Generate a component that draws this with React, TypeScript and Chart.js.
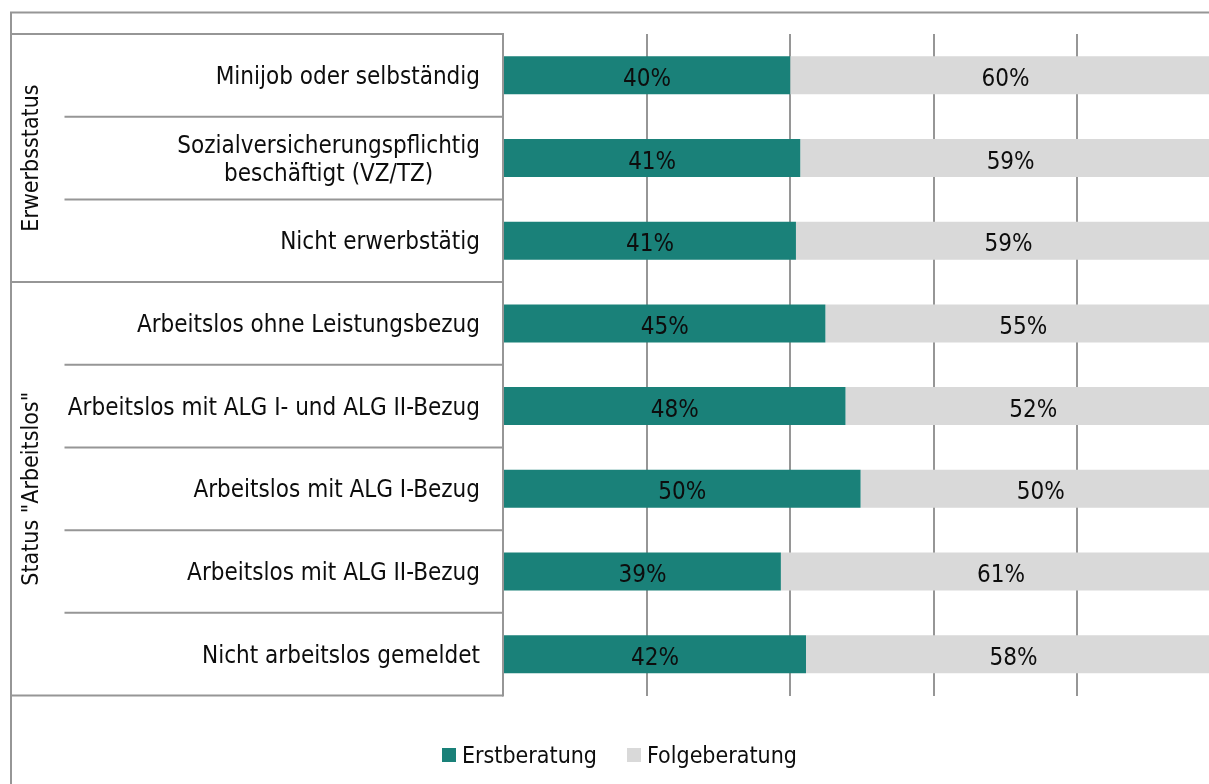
import React, { useEffect, useRef } from "react";
import { Chart, registerables } from "chart.js";

Chart.register(...registerables);

const categories: string[][] = [
  ["Minijob oder selbständig"],
  ["Sozialversicherungspflichtig", "beschäftigt (VZ/TZ)"],
  ["Nicht erwerbstätig"],
  ["Arbeitslos ohne Leistungsbezug"],
  ["Arbeitslos mit ALG I- und ALG II-Bezug"],
  ["Arbeitslos mit ALG I-Bezug"],
  ["Arbeitslos mit ALG II-Bezug"],
  ["Nicht arbeitslos gemeldet"],
];
const erstberatung = [40.0, 41.4, 40.8, 44.9, 47.7, 49.8, 38.7, 42.2];
const folgeberatung = [60.0, 58.6, 59.2, 55.1, 52.3, 50.2, 61.3, 57.8];
const seriesNames = ["Erstberatung", "Folgeberatung"];
const seriesColors = ["#1a8179", "#d9d9d9"];
const groupLabels = ["Erwerbsstatus", 'Status "Arbeitslos"'];
const groupStart = [0, 3];
const groupEnd = [2, 7];
const xMin = 0;
const xMax = 100;
const xStep = 20;

const FONT_FAMILY = '"DejaVu Sans Condensed", "DejaVu Sans", sans-serif';
const LINE_COLOR = "#969696";
const TEXT_COLOR = "#0d0d0d";

const overlayPlugin = {
  id: "overlay",
  afterDatasetsDraw(chart: any) {
    const ctx = chart.ctx;
    ctx.save();
    ctx.fillStyle = TEXT_COLOR;
    ctx.font = `24px ${FONT_FAMILY}`;
    ctx.textAlign = "center";
    ctx.textBaseline = "alphabetic";
    chart.data.datasets.forEach((ds: any, di: number) => {
      const meta = chart.getDatasetMeta(di);
      meta.data.forEach((bar: any, i: number) => {
        const v = ds.data[i];
        const left = Math.min(bar.x, bar.base);
        const right = Math.max(bar.x, bar.base);
        const cx = (left + right) / 2;
        ctx.fillText(`${Math.round(v)}%`, cx, bar.y + 10.5);
      });
    });
    ctx.restore();
  },
  afterDraw(chart: any) {
    const ctx = chart.ctx;
    const area = chart.chartArea;
    const yScale = chart.scales.y;
    const n = chart.data.labels.length;
    const band = (area.bottom - area.top) / n;
    const frameX = 11;
    const frameY = 12.5;
    const innerX = 64.5;
    ctx.save();
    ctx.strokeStyle = LINE_COLOR;
    ctx.lineWidth = 2;
    // outer frame
    ctx.beginPath();
    ctx.moveTo(frameX, chart.height + 2);
    ctx.lineTo(frameX, frameY);
    ctx.lineTo(chart.width + 2, frameY);
    ctx.stroke();
    // label table
    const groupBounds = new Set<number>();
    groupStart.forEach((s) => groupBounds.add(s));
    groupBounds.add(n);
    for (let k = 0; k <= n; k++) {
      const y = area.top + k * band;
      ctx.beginPath();
      ctx.moveTo(groupBounds.has(k) ? frameX : innerX, y);
      ctx.lineTo(area.left, y);
      ctx.stroke();
    }
    ctx.beginPath();
    ctx.moveTo(area.left, area.top - 1);
    ctx.lineTo(area.left, area.bottom + 1);
    ctx.stroke();

    // category labels
    ctx.fillStyle = TEXT_COLOR;
    ctx.font = `24px ${FONT_FAMILY}`;
    ctx.textBaseline = "alphabetic";
    const rightX = area.left - 23;
    chart.data.labels.forEach((lab: any, i: number) => {
      const lines: string[] = Array.isArray(lab) ? lab : [lab];
      const cy = yScale.getPixelForValue(i);
      const lh = 28;
      const widths = lines.map((l) => ctx.measureText(l).width);
      const maxW = Math.max(...widths);
      const cx = rightX - maxW / 2;
      ctx.textAlign = "center";
      lines.forEach((l, li) => {
        const y = cy + 8.5 + (li - (lines.length - 1) / 2) * lh;
        ctx.fillText(l, cx, y);
      });
    });

    // group labels
    ctx.font = `23px ${FONT_FAMILY}`;
    groupLabels.forEach((g, gi) => {
      const y0 = area.top + groupStart[gi] * band;
      const y1 = area.top + (groupEnd[gi] + 1) * band;
      ctx.save();
      ctx.translate(38, (y0 + y1) / 2);
      ctx.rotate(-Math.PI / 2);
      ctx.textAlign = "center";
      ctx.fillText(g, 0, 0);
      ctx.restore();
    });

    // legend
    ctx.font = `23px ${FONT_FAMILY}`;
    ctx.textAlign = "left";
    let x = 442;
    const sq = 14;
    const sqTop = 748;
    const baseline = 763;
    chart.data.datasets.forEach((ds: any) => {
      ctx.fillStyle = ds.backgroundColor;
      ctx.fillRect(x, sqTop, sq, sq);
      x += sq + 6;
      ctx.fillStyle = TEXT_COLOR;
      ctx.fillText(ds.label, x, baseline);
      x += ctx.measureText(ds.label).width + 30;
    });
    ctx.restore();
  },
};

export default function App() {
  const canvasRef = useRef<HTMLCanvasElement | null>(null);
  useEffect(() => {
    document.documentElement.style.overflow = "hidden";
    document.body.style.margin = "0";
    const canvas = canvasRef.current!;
    const chart = new Chart(canvas, {
      type: "bar",
      data: {
        labels: categories as any,
        datasets: [
          {
            label: seriesNames[0],
            data: erstberatung,
            backgroundColor: seriesColors[0],
            borderWidth: 0,
            barPercentage: 0.46,
            categoryPercentage: 1,
          },
          {
            label: seriesNames[1],
            data: folgeberatung,
            backgroundColor: seriesColors[1],
            borderWidth: 0,
            barPercentage: 0.46,
            categoryPercentage: 1,
          },
        ],
      },
      options: {
        indexAxis: "y",
        responsive: false,
        animation: false,
        devicePixelRatio: 1,
        layout: { padding: { top: 34, bottom: 88.5, left: 0, right: 19 } },
        plugins: {
          legend: { display: false },
          tooltip: { enabled: false },
        },
        scales: {
          x: {
            stacked: true,
            min: xMin,
            max: xMax,
            ticks: { display: false, stepSize: xStep },
            grid: { color: LINE_COLOR, lineWidth: 2, drawTicks: false },
            border: { display: false },
          },
          y: {
            stacked: true,
            ticks: { display: false },
            grid: { display: false, drawTicks: false },
            border: { display: false },
            afterFit: (s: any) => {
              s.width = 503;
            },
          },
        },
      },
      plugins: [overlayPlugin],
    });
    return () => chart.destroy();
  }, []);
  return (
    <div style={{ width: 1209, height: 784, overflow: "hidden", position: "relative" }}>
      <canvas ref={canvasRef} width={1240} height={784} style={{ display: "block", width: 1240, height: 784 }} />
    </div>
  );
}
